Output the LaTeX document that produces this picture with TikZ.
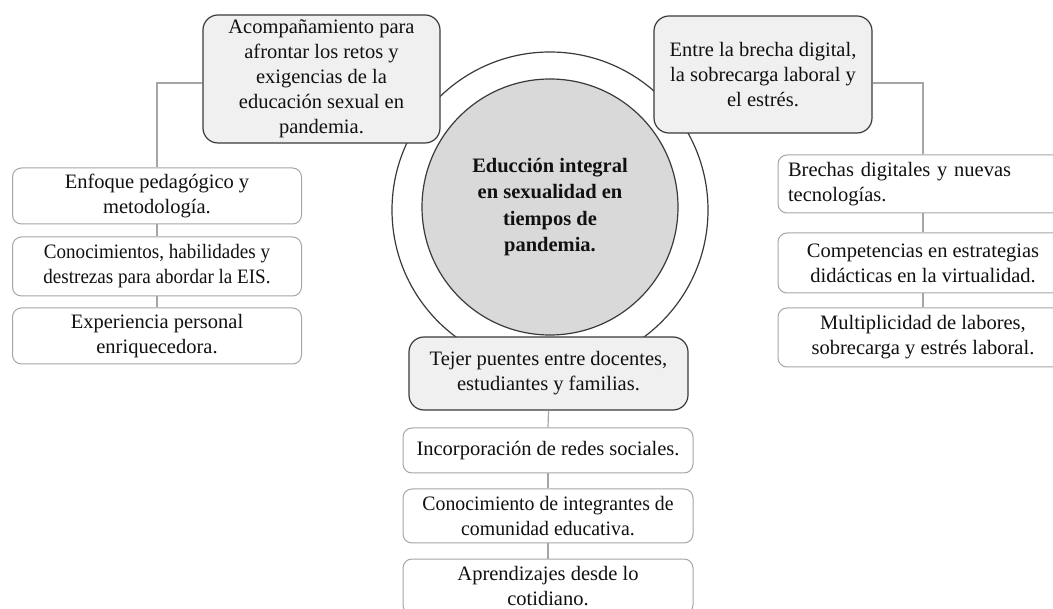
\documentclass[tikz,border=0pt]{standalone}
\usepackage{fontspec}
\setmainfont{Liberation Serif}
\newfontfamily\condA[FakeStretch=0.93]{Liberation Serif}
\newfontfamily\condB[FakeStretch=0.965]{Liberation Serif}
\definecolor{gfill}{HTML}{F0F0F0}
\definecolor{gdraw}{HTML}{3A3A3A}
\definecolor{ldraw}{HTML}{A6A6A6}
\definecolor{cfill}{HTML}{D9D9D9}
\definecolor{txt}{HTML}{111111}
\tikzset{
  basebox/.style={rectangle, inner sep=0pt, align=center, text=txt,
    font=\fontsize{20.5}{25}\selectfont},
  graybox/.style={basebox, draw=gdraw, fill=gfill, line width=1.2pt, rounded corners=15pt},
  whitebox/.style={basebox, draw=ldraw, fill=white, line width=1pt, rounded corners=9pt},
  conn/.style={draw=ldraw, line width=1.2pt},
  ring/.style={draw=gdraw, line width=1.2pt}
}
\begin{document}
\begin{tikzpicture}[x=1pt,y=-1pt]
\useasboundingbox (0,0) rectangle (1053,609);
\clip (0,0) rectangle (1053,609);
\fill[white] (0,0) rectangle (1053,609);
% circles
\node[ring, circle, fill=white, minimum size=316pt, inner sep=0pt] (outer) at (550,210) {};
\node[ring, circle, fill=cfill, minimum size=256pt, inner sep=0pt, align=center,
  text=txt, font=\bfseries\fontsize{20.5}{26.5}\selectfont] (center) at (550,207)
  {Educción integral\\en sexualidad en\\tiempos de\\pandemia.};
% main gray boxes
\node[graybox, minimum width=237pt, minimum height=128pt] (A) at (321.5,79)
  {Acompañamiento para\\afrontar los retos y\\exigencias de la\\educación sexual en\\pandemia.};
\node[graybox, minimum width=218pt, minimum height=117pt] (B) at (763,74.5)
  {Entre la brecha digital,\\la sobrecarga laboral y\\el estrés.};
\node[graybox, minimum width=279pt, minimum height=73pt] (C) at (548.5,373.5)
  {Tejer puentes entre docentes,\\estudiantes y familias.};
% left boxes
\node[whitebox, minimum width=289pt, minimum height=56pt] (L1) at (157,196)
  {Enfoque pedagógico y\\metodología.};
\node[whitebox, minimum width=289pt, minimum height=59pt] (L2) at (157,266.5)
  {\condA Conocimientos, habilidades y\\\condA destrezas para abordar la EIS.};
\node[whitebox, minimum width=289pt, minimum height=56pt] (L3) at (157,336)
  {Experiencia personal\\enriquecedora.};
% right boxes
\node[whitebox, minimum width=290pt, minimum height=58pt, text width=270pt, align=left] (R1) at (923,184)
  {Brechas digitales y nuevas\\tecnologías.};
\node[whitebox, minimum width=290pt, minimum height=60pt] (R2) at (923,263)
  {Competencias en estrategias\\didácticas en la virtualidad.};
\node[whitebox, minimum width=290pt, minimum height=59pt] (R3) at (923,337.5)
  {Multiplicidad de labores,\\sobrecarga y estrés laboral.};
% bottom boxes
\node[whitebox, minimum width=290pt, minimum height=45pt] (D1) at (548,450.5)
  {Incorporación de redes sociales.};
\node[whitebox, minimum width=290pt, minimum height=54pt] (D2) at (548,516)
  {\condB Conocimiento de integrantes de\\\condB comunidad educativa.};
\node[whitebox, minimum width=290pt, minimum height=55pt] (D3) at (548,586.5)
  {Aprendizajes desde lo\\cotidiano.};
% connectors
\draw[conn] ([yshift=-4pt]A.west) -| (L1.north);
\draw[conn] (L1.south) -- (L2.north);
\draw[conn] (L2.south) -- (L3.north);
\draw[conn] ([yshift=-8.5pt]B.east) -| (R1.north);
\draw[conn] (R1.south) -- (R2.north);
\draw[conn] (R2.south) -- (R3.north);
\draw[conn] (C.south) -- (D1.north);
\draw[conn] (D1.south) -- (D2.north);
\draw[conn] (D2.south) -- (D3.north);
\end{tikzpicture}
\end{document}
